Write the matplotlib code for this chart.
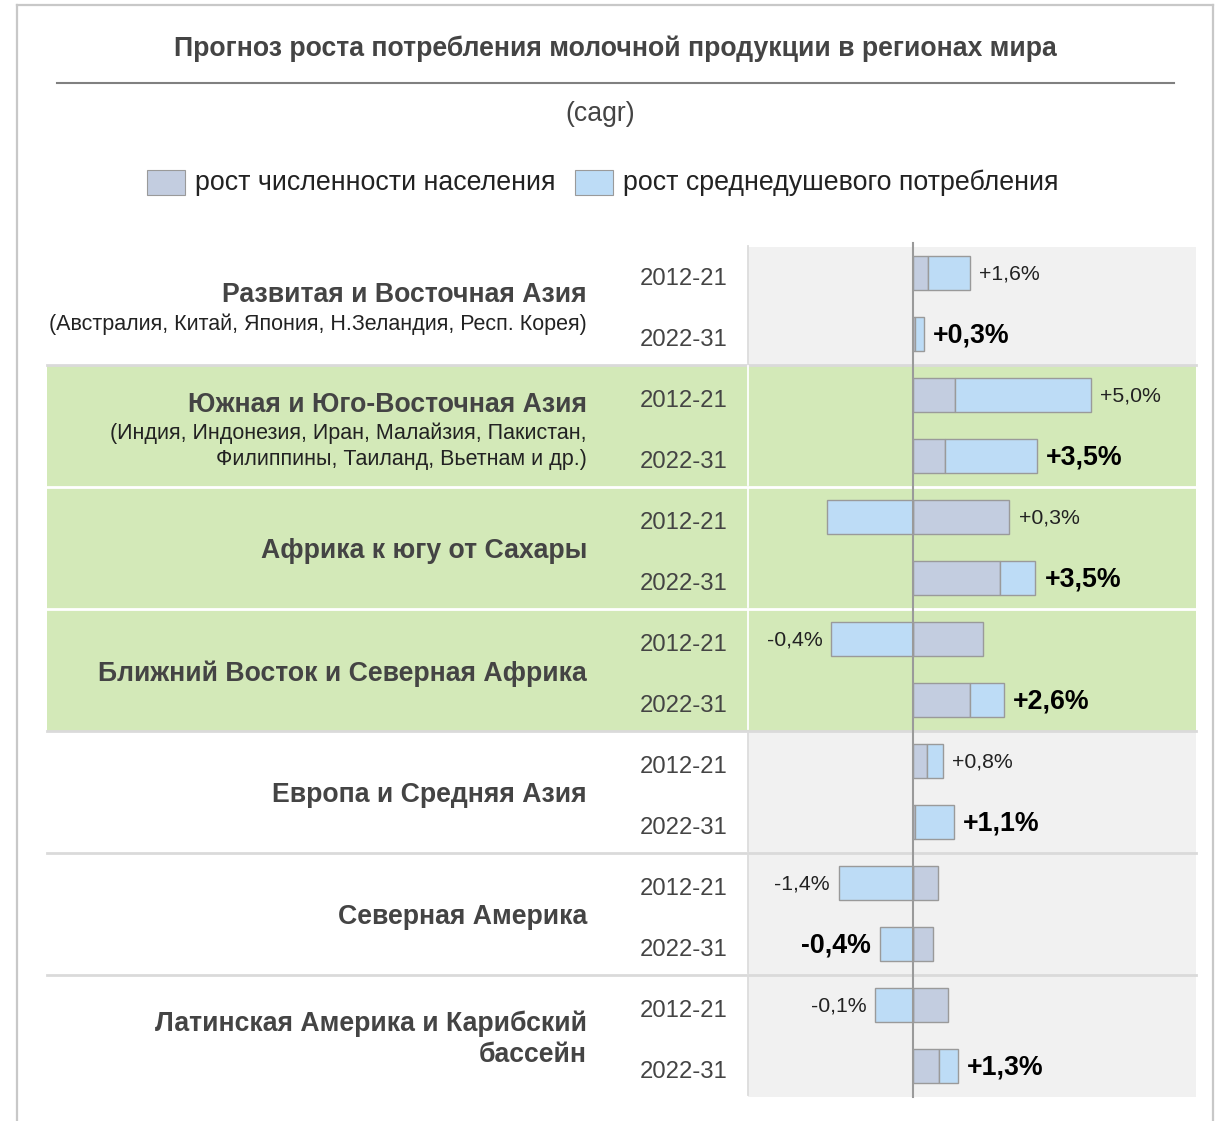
import matplotlib
matplotlib.use("Agg")
import matplotlib.pyplot as plt
import matplotlib.transforms as mtransforms
from matplotlib.patches import Rectangle
from matplotlib.lines import Line2D

plt.rcParams['font.family'] = ['Liberation Sans', 'DejaVu Sans']

# ---------------- data ----------------
title = "Прогноз роста потребления молочной продукции в регионах мира"
subtitle = "(cagr)"
legend_labels = ["рост численности населения", "рост среднедушевого потребления"]

regions = [
    "Развитая и Восточная Азия",
    "Южная и Юго-Восточная Азия",
    "Африка к югу от Сахары",
    "Ближний Восток и Северная Африка",
    "Европа и Средняя Азия",
    "Северная Америка",
    "Латинская Америка и Карибский\nбассейн",
]
region_notes = [
    "(Австралия, Китай, Япония, Н.Зеландия, Респ. Корея)",
    "(Индия, Индонезия, Иран, Малайзия, Пакистан,\nФилиппины, Таиланд, Вьетнам и др.)",
    "", "", "", "", "",
]
periods = ["2012-21", "2022-31"]

# one value per region/period row (2 rows per region)
pop_growth =    [0.43, 0.05, 1.17, 0.89, 2.71, 2.44, 1.96, 1.61, 0.39, 0.07, 0.69, 0.57, 0.97, 0.74]
percap_growth = [1.17, 0.25, 3.82, 2.59, -2.42, 1.00, -2.29, 0.94, 0.46, 1.07, -2.09, -0.93, -1.06, 0.52]
totals =        [1.6, 0.3, 5.0, 3.5, 0.3, 3.5, -0.4, 2.6, 0.8, 1.1, -1.4, -0.4, -0.1, 1.3]
green_groups = [1, 2, 3]

# ---------------- style ----------------
W, H = 1221, 1121
C_POP = "#c3cde0"
C_PC = "#bddcf6"
C_EDGE = "#9a9a9a"
C_GREEN = "#d3e9b8"
C_PLOTBG = "#f1f1f1"
C_SEP = "#dadada"
C_TXT = "#444444"

fig = plt.figure(figsize=(W / 100, H / 100), dpi=100)
fig.patch.set_facecolor("white")

bg = fig.add_axes([0, 0, 1, 1])
bg.set_xlim(0, W)
bg.set_ylim(H, 0)
bg.axis("off")

# bar axes (pixel geometry of the plot area)
PX_L, PX_R, PX_T, PX_B = 748, 1196, 247, 1098
ZERO_PX, SCALE = 913, 35.6
ROW0_PX, ROW_PX = 273, 61
ax = fig.add_axes([PX_L / W, 1 - PX_B / H, (PX_R - PX_L) / W, (PX_B - PX_T) / H])
ax.set_xlim(-(ZERO_PX - PX_L) / SCALE, (PX_R - ZERO_PX) / SCALE)
ax.set_ylim((PX_B - ROW0_PX) / ROW_PX, -(ROW0_PX - PX_T) / ROW_PX)
ax.patch.set_visible(False)
ax.axis("off")

blend = mtransforms.blended_transform_factory(bg.transData, ax.transData)
n_groups = len(regions)

# frame
for xs, ys in [([17, 17], [5, H]), ([17, 1213], [5, 5]), ([1213, 1213], [5, H])]:
    bg.add_line(Line2D(xs, ys, color="#c8c8c8", lw=1.6))

# title, rule, subtitle
bg.text(615, 49, title, ha="center", va="center", fontsize=19.2, fontweight="bold", color=C_TXT)
bg.add_line(Line2D([57, 1174], [83, 83], color="#808080", lw=1.5))
bg.text(600, 114, subtitle, ha="center", va="center", fontsize=19.2, color=C_TXT)

# legend
for (x0, lab, col) in [(147, legend_labels[0], C_POP), (575, legend_labels[1], C_PC)]:
    bg.add_patch(Rectangle((x0, 170), 38, 25, facecolor=col, edgecolor=C_EDGE, lw=0.8))
    bg.text(x0 + 48, 183, lab, ha="left", va="center", fontsize=19.3, color="#222222")

# group backgrounds
for g in range(n_groups):
    y0 = 2 * g - 0.5
    if g in green_groups:
        bg.add_patch(Rectangle((47, y0), PX_R - 47, 2, transform=blend, facecolor=C_GREEN,
                               edgecolor="none", zorder=0))
    else:
        bg.add_patch(Rectangle((PX_L, y0), PX_R - PX_L, 2, transform=blend, facecolor=C_PLOTBG,
                               edgecolor="none", zorder=0))
# top of first group starts at plot top
bg.add_patch(Rectangle((PX_L, -0.5), PX_R - PX_L, (PX_T - 242.5) / ROW_PX, transform=blend,
                       facecolor="white", edgecolor="none", zorder=0.5))

# separators
for g in range(1, n_groups):
    yb = 2 * g - 0.5
    both_green = (g in green_groups) and (g - 1 in green_groups)
    col = "white" if both_green else C_SEP
    bg.add_line(Line2D([47, PX_R], [yb, yb], transform=blend, color=col, lw=2.0, zorder=1))
for g in range(n_groups):
    y0 = 2 * g - 0.5 + (0.05 if g == 0 else 0.02)
    col = "white" if g in green_groups else "#dcdcdc"
    bg.add_line(Line2D([PX_L, PX_L], [y0, 2 * g + 1.48], transform=blend, color=col,
                       lw=1.3, zorder=1))

# left labels
for g in range(n_groups):
    c = 2 * g + 0.5
    name_lines = regions[g].split("\n")
    note_lines = region_notes[g].split("\n") if region_notes[g] else []
    if note_lines:
        name_y = [c + (-8 - 12 * (len(note_lines) - 1)) / ROW_PX]
        note_c = c + 21 / ROW_PX
        note_y = [note_c + (k - (len(note_lines) - 1) / 2) * 26 / ROW_PX for k in range(len(note_lines))]
    else:
        name_y = [c + 4 / ROW_PX + (k - (len(name_lines) - 1) / 2) * 31 / ROW_PX
                  for k in range(len(name_lines))]
        note_y = []
    for ln, yy in zip(name_lines, name_y):
        bg.text(587, yy, ln, transform=blend, ha="right", va="center", fontsize=19.2,
                fontweight="bold", color=C_TXT, zorder=3)
    for ln, yy in zip(note_lines, note_y):
        bg.text(587, yy, ln, transform=blend, ha="right", va="center", fontsize=15.5,
                color="#222222", zorder=3)
    for k, p in enumerate(periods):
        bg.text(684, 2 * g + k + 6 / ROW_PX, p, transform=blend, ha="center", va="center",
                fontsize=17.2, color=C_TXT, zorder=3)

# bars
rows = list(range(len(pop_growth)))
bar_h = 34 / ROW_PX
pc_left = [p if (v >= 0 and p >= 0) else 0 for p, v in zip(pop_growth, percap_growth)]
ax.barh(rows, pop_growth, height=bar_h, color=C_POP, edgecolor=C_EDGE, lw=1.0, zorder=2)
ax.barh(rows, percap_growth, left=pc_left, height=bar_h, color=C_PC, edgecolor=C_EDGE,
        lw=1.0, zorder=2)
ax.plot([0, 0], [-0.5, (PX_B - 1 - ROW0_PX) / ROW_PX], color="#9a9a9a", lw=1.5, zorder=3,
        clip_on=False)

# value labels
for i, t in enumerate(totals):
    s = ("+" if t >= 0 else "-") + f"{abs(t):.1f}".replace(".", ",") + "%"
    bold = (i % 2 == 1)
    kw = dict(textcoords="offset points", va="center",
              fontsize=19.3 if bold else 15.3, fontweight="bold" if bold else "normal",
              color="black" if bold else "#222222", zorder=4)
    if t >= 0:
        end = max(0, pop_growth[i]) + max(0, percap_growth[i]) if percap_growth[i] >= 0 else max(0, pop_growth[i])
        ax.annotate(s, (end, i + 1.5 / ROW_PX), xytext=(6.5, 0), ha="left", **kw)
    else:
        end = min(0, percap_growth[i]) + min(0, pop_growth[i])
        ax.annotate(s, (end, i + 1.5 / ROW_PX), xytext=(-6.5, 0), ha="right", **kw)

fig.savefig("out.png", dpi=100)
